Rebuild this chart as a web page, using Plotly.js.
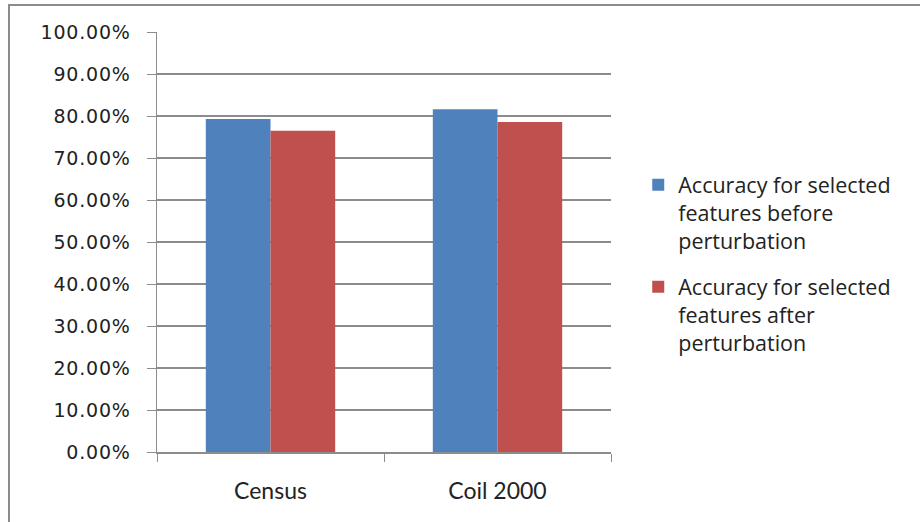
<!DOCTYPE html>
<html>
<head>
<meta charset="utf-8">
<script src="https://cdn.plot.ly/plotly-3.0.1.min.js"></script>
<style>
html,body{margin:0;padding:0;background:#fff;}
#frame{position:absolute;left:8px;top:4px;width:940px;height:540px;border:2px solid #8c8c8c;box-sizing:border-box;pointer-events:none;z-index:5;}
#chart{position:absolute;left:0;top:0;width:920px;height:522px;}
.ytick text{letter-spacing:0.8px;}
</style>
</head>
<body>
<div id="chart"></div>
<div id="frame"></div>
<script>
const categories = ["Census", "Coil 2000"];
const beforeValues = [0.793, 0.816];
const afterValues = [0.765, 0.786];
const seriesNames = [
  "Accuracy for selected<br>features before<br>perturbation",
  "Accuracy for selected<br>features after<br>perturbation"
];
const tickValues = [0, 0.1, 0.2, 0.3, 0.4, 0.5, 0.6, 0.7, 0.8, 0.9, 1.0];
const tickLabels = ["0.00%", "10.00%", "20.00%", "30.00%", "40.00%", "50.00%", "60.00%", "70.00%", "80.00%", "90.00%", "100.00%"];

const data = [
  {type: "bar", x: categories, y: beforeValues, name: seriesNames[0], legendgroup: "a",
   marker: {color: "#4f81bd"}, hoverinfo: "skip"},
  {type: "bar", x: categories, y: afterValues, name: seriesNames[1], legendgroup: "b",
   marker: {color: "#c0504d"}, hoverinfo: "skip"}
];

const layout = {
  width: 920, height: 522,
  margin: {l: 157, r: 309, t: 32, b: 70},
  paper_bgcolor: "#fff", plot_bgcolor: "#fff",
  barmode: "group", bargap: 0.43, bargroupgap: 0,
  showlegend: true,
  legend: {x: 1.06, xanchor: "left", y: 0.685, yanchor: "top",
    font: {family: "'Open Sans', Lato, sans-serif", size: 21.5, color: "#222"},
    traceorder: "grouped", tracegroupgap: 15, itemwidth: 30, valign: "top",
    bgcolor: "rgba(0,0,0,0)"},
  xaxis: {
    type: "category", tickson: "boundaries", ticks: "outside", ticklen: 8,
    tickcolor: "#8c8c8c", showline: true, linecolor: "#8c8c8c", linewidth: 1.5,
    showgrid: false, zeroline: false,
    tickfont: {family: "Lato, 'Open Sans', sans-serif", size: 23, color: "#222"},
    ticklabelstandoff: 18
  },
  yaxis: {
    range: [0, 1], tickvals: tickValues, ticktext: tickLabels,
    ticks: "outside", ticklen: 9, tickcolor: "#8c8c8c",
    showline: true, linecolor: "#8c8c8c", linewidth: 1.5,
    showgrid: true, gridcolor: "#8c8c8c", gridwidth: 1.2, zeroline: false,
    tickfont: {family: "'DejaVu Sans', Verdana, sans-serif", size: 19, color: "#222"},
    ticklabelstandoff: 12
  }
};

Plotly.newPlot("chart", data, layout, {displayModeBar: false, staticPlot: true});
</script>
</body>
</html>
